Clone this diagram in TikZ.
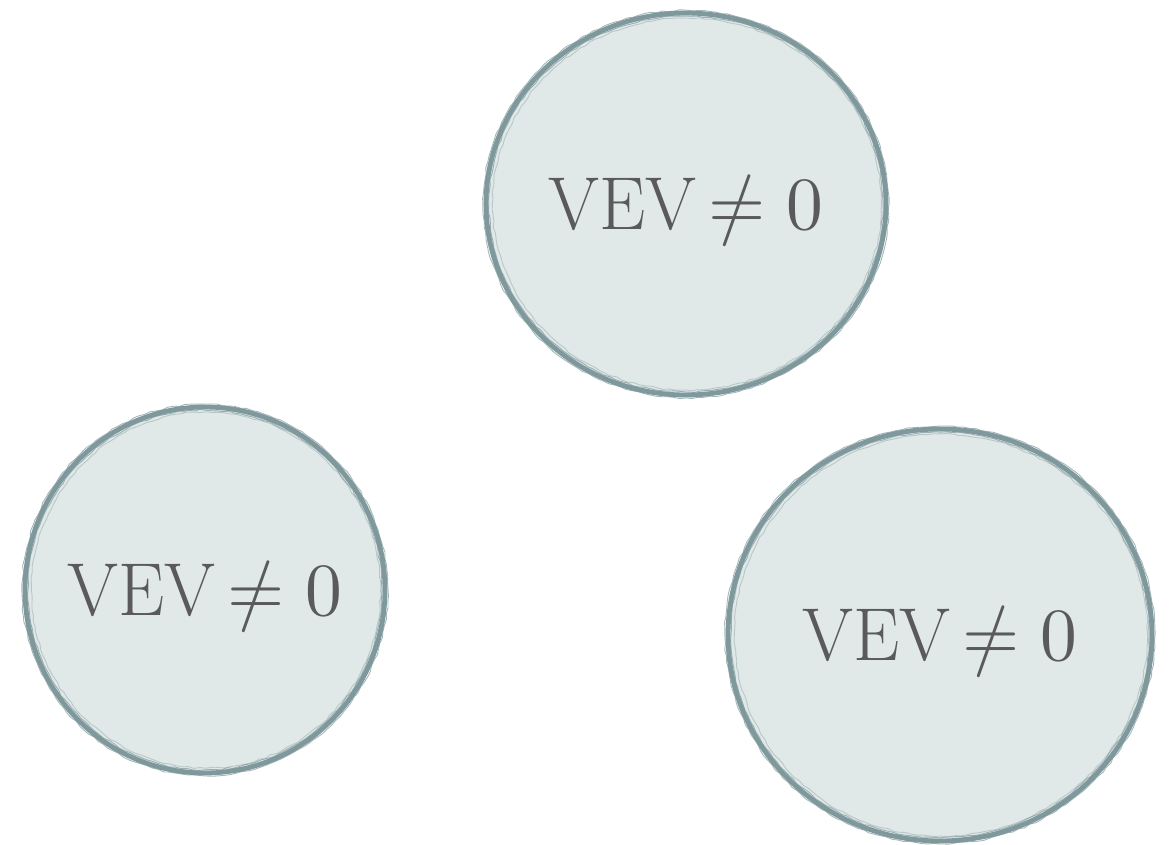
\documentclass[tikz,border=0pt]{standalone}
\usepackage{unicode-math}
\setmathfont{Latin Modern Math}
\usetikzlibrary{shapes.geometric,decorations.pathmorphing}
\definecolor{bubblefill}{HTML}{E0E8E8}
\definecolor{bubbleline}{HTML}{7E989C}
\definecolor{labeltext}{HTML}{5A5A5A}
\tikzset{
  bubble/.style={ellipse, draw=bubbleline, fill=bubblefill, line width=4.8pt, inner sep=0pt,
    text=labeltext, font=\fontsize{75}{80}\selectfont},
  brush/.style={draw=bubbleline, line width=0.9pt, opacity=0.7,
    decorate, decoration={random steps, segment length=6pt, amplitude=0.8pt}}
}
\newcommand{\veclabel}{\makebox[0pt]{\raisebox{-25pt}[0pt][0pt]{\scalebox{0.98}[1]{VEV\,$\neq0$}}}}
\begin{document}
\begin{tikzpicture}[x=1pt,y=-1pt]
\useasboundingbox (0,0) rectangle (1175,844);
\node[bubble, minimum width=400pt, minimum height=382pt] (top) at (686,204) {\veclabel};
\node[bubble, minimum width=360pt, minimum height=366pt] (left) at (205,590) {\veclabel};
\node[bubble, minimum width=424pt, minimum height=412pt] (right) at (940,635) {\veclabel};
\foreach \n/\rx/\ry in {top/200/191, left/180/183, right/212/206}{
  \draw[brush] (\n.center) ellipse [x radius=\rx+3.0, y radius=\ry+2.8];
  \draw[brush] (\n.center) ellipse [x radius=\rx-3.0, y radius=\ry-3.2];
  \draw[brush, opacity=0.4] ([xshift=1pt]\n.center) ellipse [x radius=\rx-5.5, y radius=\ry-5];
}
\end{tikzpicture}
\end{document}
